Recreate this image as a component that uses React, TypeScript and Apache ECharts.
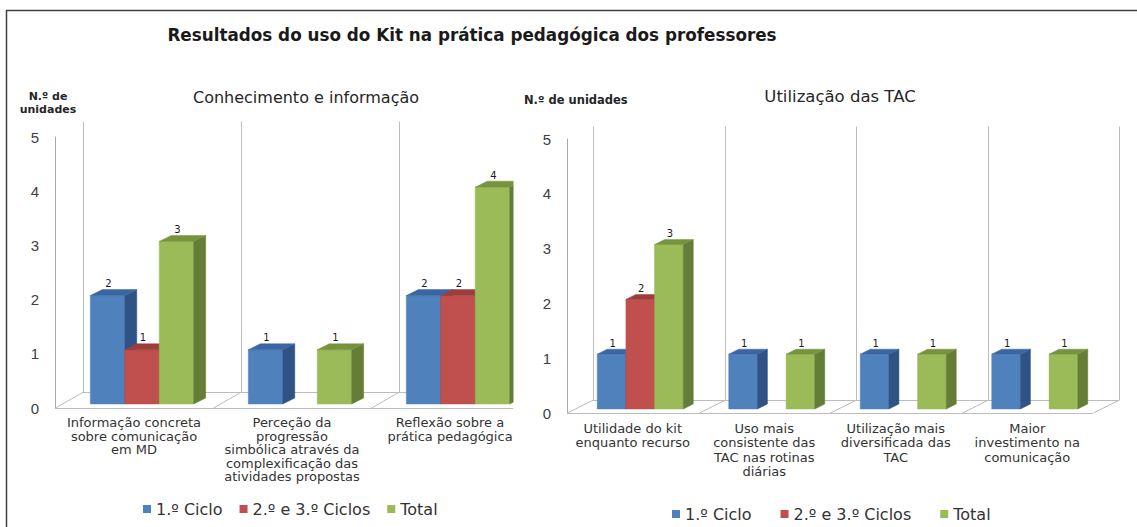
import React, { useEffect, useRef } from "react";
import * as echarts from "echarts";

// ---------- data ----------
const SERIES_NAMES = ["1.º Ciclo", "2.º e 3.º Ciclos", "Total"];

const LEFT_CATEGORIES = [
  "Informação concreta\nsobre comunicação\nem MD",
  "Perceção da\nprogressão\nsimbólica através da\ncomplexificação das\natividades propostas",
  "Reflexão sobre a\nprática pedagógica",
];
const LEFT_CICLO1 = [2, 1, 2];
const LEFT_CICLO23: (number | null)[] = [1, null, 2];
const LEFT_TOTAL = [3, 1, 4];

const RIGHT_CATEGORIES = [
  "Utilidade do kit\nenquanto recurso",
  "Uso mais\nconsistente das\nTAC nas rotinas\ndiárias",
  "Utilização mais\ndiversificada das\nTAC",
  "Maior\ninvestimento na\ncomunicação",
];
const RIGHT_CICLO1 = [1, 1, 1, 1];
const RIGHT_CICLO23: (number | null)[] = [2, null, null, null];
const RIGHT_TOTAL = [3, 1, 1, 1];

const Y_TICKS = [0, 1, 2, 3, 4, 5];

const MAIN_TITLE = "Resultados do uso do Kit na prática pedagógica dos professores";
const LEFT_TITLE = "Conhecimento e informação";
const RIGHT_TITLE = "Utilização das TAC";
const LEFT_YNAME = "N.º de\nunidades";
const RIGHT_YNAME = "N.º de unidades";

// ---------- styles ----------
const FACES = [
  { front: "#4F81BD", side: "#2F5385", top: "#3A66A2" },
  { front: "#C0504D", side: "#8C3A38", top: "#9C3E3B" },
  { front: "#9BBB59", side: "#657E37", top: "#76933E" },
];
const WALL = "#BCBCBC";
const FONT = "DejaVu Sans";
const BAR_FRAC = 0.218;

type Geo = {
  left: number; top: number; width: number; height: number;
  dx0: number; dy0: number; sdx: number; sdy: number;
  fdx: number; fdy: number; clipBands: number | null; n: number;
};

const LEFT_GEO: Geo = {
  left: 55, top: 137, width: 474, height: 271,
  dx0: 8, dy0: -4, sdx: 12, sdy: -6, fdx: 28, fdy: -16, clipBands: 2.9,
  n: LEFT_CATEGORIES.length,
};
const RIGHT_GEO: Geo = {
  left: 567, top: 139, width: 526, height: 274,
  dx0: 7.5, dy0: -4, sdx: 10, sdy: -5, fdx: 26, fdy: -13, clipBands: null,
  n: RIGHT_CATEGORIES.length,
};

function clipPoly(pts: number[][], maxX: number | null): number[][] {
  if (maxX == null) return pts;
  const out: number[][] = [];
  for (let i = 0; i < pts.length; i++) {
    const a = pts[i];
    const b = pts[(i + 1) % pts.length];
    const ain = a[0] <= maxX;
    const bin = b[0] <= maxX;
    if (ain) out.push(a);
    if (ain !== bin) {
      const t = (maxX - a[0]) / (b[0] - a[0]);
      out.push([maxX, a[1] + t * (b[1] - a[1])]);
    }
  }
  return out;
}

function clipLine(p: number[], q: number[], maxX: number | null): number[][] | null {
  if (maxX == null) return [p, q];
  if (p[0] > maxX && q[0] > maxX) return null;
  let a = p, b = q;
  if (a[0] > maxX) { const t = (maxX - b[0]) / (a[0] - b[0]); a = [maxX, b[1] + t * (a[1] - b[1])]; }
  if (b[0] > maxX) { const t = (maxX - a[0]) / (b[0] - a[0]); b = [maxX, a[1] + t * (b[1] - a[1])]; }
  return [a, b];
}

function clipLimit(api: any, geo: Geo): number | null {
  if (geo.clipBands == null) return null;
  const band = api.size([1, 0])[0];
  const x0 = api.coord([0, 0])[0] - band / 2;
  return x0 + geo.clipBands * band;
}

function barRender(geo: Geo, offsetIndex: number, colors: { front: string; side: string; top: string }) {
  return function (params: any, api: any) {
    const cat = api.value(0);
    const v = api.value(1);
    if (v == null || isNaN(v)) return null;
    const base = api.coord([cat, 0]);
    const top = api.coord([cat, v]);
    const band = api.size([1, 0])[0];
    const bw = band * BAR_FRAC;
    const cx = base[0] + geo.dx0 + offsetIndex * bw;
    const xl = cx - bw / 2;
    const xr = cx + bw / 2;
    const yb = base[1] + geo.dy0;
    const yt = top[1] + geo.dy0;
    const { sdx, sdy } = geo;
    const maxX = clipLimit(api, geo);
    const faces = [
      { pts: [[xl, yb], [xr, yb], [xr, yt], [xl, yt]], fill: colors.front },
      { pts: [[xr, yb], [xr + sdx, yb + sdy], [xr + sdx, yt + sdy], [xr, yt]], fill: colors.side },
      { pts: [[xl, yt], [xr, yt], [xr + sdx, yt + sdy], [xl + sdx, yt + sdy]], fill: colors.top },
    ];
    const children: any[] = [];
    faces.forEach((f) => {
      const pts = clipPoly(f.pts, maxX);
      if (pts.length >= 3) {
        children.push({
          type: "polygon",
          shape: { points: pts },
          style: { fill: f.fill, stroke: f.fill, lineWidth: 0.5 },
        });
      }
    });
    children.push({
      type: "text",
      x: cx + 1,
      y: yt + sdy - 1,
      style: {
        text: String(v),
        fill: "#1a1a1a",
        fontSize: 10,
        fontFamily: FONT,
        align: "center",
        verticalAlign: "bottom",
      },
    });
    return { type: "group", children };
  };
}

function frameRender(geo: Geo) {
  return function (params: any, api: any) {
    const band = api.size([1, 0])[0];
    const c0 = api.coord([0, Y_TICKS[0]]);
    const y0 = c0[1];
    const yTop = api.coord([0, Y_TICKS[Y_TICKS.length - 1]])[1];
    const x0 = c0[0] - band / 2;
    const maxX = clipLimit(api, geo);
    const { fdx, fdy, n } = geo;
    const style = { stroke: WALL, lineWidth: 1, fill: "none" };
    const children: any[] = [];
    const addLine = (p: number[], q: number[]) => {
      const l = clipLine(p, q, maxX);
      if (!l) return;
      children.push({
        type: "line",
        shape: { x1: l[0][0], y1: l[0][1], x2: l[1][0], y2: l[1][1] },
        style,
      });
    };
    for (let i = 0; i <= n; i++) {
      const xf = Math.round(x0 + i * band) + 0.5;
      const xb = Math.round(x0 + i * band + fdx) + 0.5;
      if (maxX != null && xf > maxX) continue;
      addLine([xf, y0], [xb, y0 + fdy]);
      if (maxX == null || xb <= maxX) {
        addLine([xb, Math.round(yTop + fdy) + 0.5], [xb, Math.round(y0 + fdy) + 0.5]);
      }
    }
    const yF = Math.round(y0) + 0.5;
    const yB = Math.round(y0 + fdy) + 0.5;
    addLine([x0, yF], [x0 + n * band, yF]);
    addLine([x0 + fdx, yB], [x0 + n * band + fdx, yB]);
    return { type: "group", children };
  };
}

function buildSeries(geo: Geo, axisIndex: number, values: (number | null)[][]) {
  const series: any[] = [
    {
      type: "custom",
      name: "frame" + axisIndex,
      xAxisIndex: axisIndex,
      yAxisIndex: axisIndex,
      data: [[0, 0]],
      encode: { x: 0, y: 1 },
      renderItem: frameRender(geo),
      clip: false,
      silent: true,
      z: 1,
    },
  ];
  values.forEach((vals, si) => {
    series.push({
      type: "custom",
      name: SERIES_NAMES[si],
      xAxisIndex: axisIndex,
      yAxisIndex: axisIndex,
      itemStyle: { color: FACES[si].front },
      data: vals.map((v, i) => [i, v]).filter((d) => d[1] != null),
      encode: { x: 0, y: 1 },
      renderItem: barRender(geo, si - 1, FACES[si]),
      clip: false,
      z: 2,
    });
  });
  return series;
}

function xAxisFor(cats: string[], gridIndex: number, lineHeight: number) {
  return {
    type: "category",
    gridIndex,
    data: cats,
    axisLine: { show: false },
    axisTick: { show: false },
    splitLine: { show: false },
    axisLabel: {
      interval: 0,
      margin: 8,
      fontFamily: FONT,
      fontSize: 13,
      lineHeight,
      color: "#333333",
    },
  };
}

function yAxisFor(gridIndex: number) {
  return {
    type: "value",
    gridIndex,
    min: Y_TICKS[0],
    max: Y_TICKS[Y_TICKS.length - 1],
    interval: 1,
    axisLine: { show: true, lineStyle: { color: "#A8A8A8", width: 1 } },
    axisTick: { show: false },
    splitLine: { show: false },
    axisLabel: {
      margin: 16,
      fontFamily: "Liberation Sans",
      fontSize: 15,
      color: "#404040",
    },
  };
}

export default function App() {
  const ref = useRef<HTMLDivElement>(null);
  useEffect(() => {
    if (!ref.current) return;
    const chart = echarts.init(ref.current, undefined, { renderer: "svg" });
    const legendBase = {
      data: SERIES_NAMES,
      orient: "horizontal",
      itemWidth: 8,
      itemHeight: 8,
      icon: "rect",
      padding: 0,
      selectedMode: false,
      textStyle: { fontFamily: FONT, fontSize: 16, color: "#333333" },
    };
    chart.setOption({
      animation: false,
      backgroundColor: "#ffffff",
      title: [
        {
          text: MAIN_TITLE, left: 472, top: 26, padding: 0, textAlign: "center",
          textStyle: { fontFamily: FONT, fontSize: 16.8, fontWeight: "bold", color: "#1a1a1a" },
        },
        {
          text: LEFT_TITLE, left: 306, top: 89, padding: 0, textAlign: "center",
          textStyle: { fontFamily: FONT, fontSize: 16, fontWeight: "normal", color: "#262626" },
        },
        {
          text: RIGHT_TITLE, left: 840, top: 88, padding: 0, textAlign: "center",
          textStyle: { fontFamily: FONT, fontSize: 16.5, fontWeight: "normal", color: "#262626" },
        },
        {
          text: LEFT_YNAME, left: 48, top: 90, padding: 0, textAlign: "center",
          textStyle: { fontFamily: FONT, fontSize: 11, fontWeight: "bold", color: "#262626", lineHeight: 13 },
        },
        {
          text: RIGHT_YNAME, left: 524, top: 94, padding: 0,
          textStyle: { fontFamily: FONT, fontSize: 11.5, fontWeight: "bold", color: "#262626" },
        },
      ],
      legend: [
        { ...legendBase, left: 143, top: 501, itemGap: 17 },
        { ...legendBase, left: 672, top: 506, itemGap: 29 },
      ],
      grid: [
        { left: LEFT_GEO.left, top: LEFT_GEO.top, width: LEFT_GEO.width, height: LEFT_GEO.height },
        { left: RIGHT_GEO.left, top: RIGHT_GEO.top, width: RIGHT_GEO.width, height: RIGHT_GEO.height },
      ],
      xAxis: [xAxisFor(LEFT_CATEGORIES, 0, 13.5), xAxisFor(RIGHT_CATEGORIES, 1, 14.5)],
      yAxis: [yAxisFor(0), yAxisFor(1)],
      graphic: [
        {
          type: "polyline",
          shape: { points: [[6.5, 527], [6.5, 10.5], [1137, 10.5]] },
          style: { stroke: "#404040", lineWidth: 1.5, fill: "none" },
          silent: true,
        },
      ],
      series: [
        ...buildSeries(LEFT_GEO, 0, [LEFT_CICLO1, LEFT_CICLO23, LEFT_TOTAL]),
        ...buildSeries(RIGHT_GEO, 1, [RIGHT_CICLO1, RIGHT_CICLO23, RIGHT_TOTAL]),
      ],
    });
    return () => chart.dispose();
  }, []);
  return (
    <div
      ref={ref}
      style={{ position: "absolute", left: 0, top: 0, width: 1137, height: 527 }}
    />
  );
}
